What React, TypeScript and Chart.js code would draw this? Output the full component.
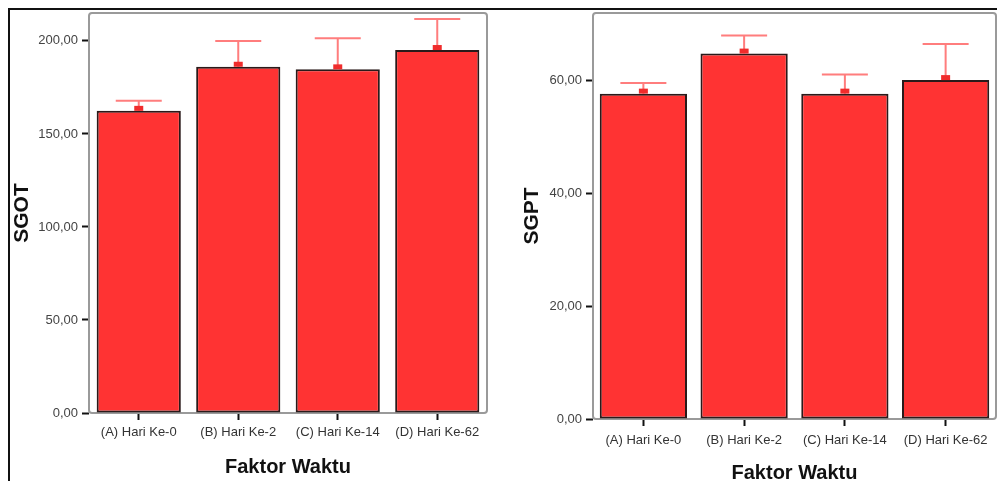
import React, { useEffect, useRef } from "react";
import { Chart, registerables } from "chart.js";

Chart.register(...registerables);

const categories = ["(A) Hari Ke-0", "(B) Hari Ke-2", "(C) Hari Ke-14", "(D) Hari Ke-62"];

const sgotMeans = [162.4, 186.1, 184.7, 195.1];
const sgotUpper = [167.9, 200.0, 201.4, 211.8];
const sgotTickValues = [0, 50, 100, 150, 200];
const sgotTickLabels = ["0,00", "50,00", "100,00", "150,00", "200,00"];

const sgptMeans = [57.7, 64.8, 57.7, 60.1];
const sgptUpper = [59.6, 68.0, 61.1, 66.5];
const sgptTickValues = [0, 20, 40, 60];
const sgptTickLabels = ["0,00", "20,00", "40,00", "60,00"];

const FONT = "'Liberation Sans', Arial, sans-serif";

const framePlugin = {
  id: "plotFrame",
  beforeDatasetsDraw(chart: any) {
    const { ctx, chartArea: a } = chart;
    ctx.save();
    ctx.strokeStyle = "#9a9a9a";
    ctx.lineWidth = 2;
    ctx.beginPath();
    if ((ctx as any).roundRect) {
      (ctx as any).roundRect(a.left, a.top, a.right - a.left, a.bottom - a.top, 3);
    } else {
      ctx.rect(a.left, a.top, a.right - a.left, a.bottom - a.top);
    }
    ctx.stroke();
    ctx.restore();
  },
};

const errorBarPlugin = {
  id: "errorBars",
  afterDatasetsDraw(chart: any, _args: any, opts: any) {
    const ctx = chart.ctx;
    const meta = chart.getDatasetMeta(0);
    const yScale = chart.scales.y;
    const upper: number[] = opts.upper || [];
    const capHalf = 23;
    ctx.save();
    meta.data.forEach((bar: any, i: number) => {
      const x = bar.x;
      const top = bar.y;
      const yu = yScale.getPixelForValue(upper[i]);
      ctx.strokeStyle = "#ff7d7d";
      ctx.lineWidth = 2;
      ctx.beginPath();
      ctx.moveTo(x, top);
      ctx.lineTo(x, yu);
      ctx.moveTo(x - capHalf, yu);
      ctx.lineTo(x + capHalf, yu);
      ctx.stroke();
      ctx.fillStyle = "#f02c2c";
      ctx.fillRect(x - 4.5, top - 5, 9, 5);
    });
    ctx.restore();
  },
};

type PanelProps = {
  width: number;
  height: number;
  left: number;
  top: number;
  yTitle: string;
  means: number[];
  upper: number[];
  tickValues: number[];
  tickLabels: string[];
  yMax: number;
  yWidth: number;
  xHeight: number;
  padRight: number;
  padTop: number;
  yTitlePad: number;
  xTitlePad: number;
  xTickPad: number;
  barFrac: number;
};

function Panel(p: PanelProps) {
  const ref = useRef<HTMLCanvasElement | null>(null);
  useEffect(() => {
    if (!ref.current) return;
    const chart = new Chart(ref.current, {
      type: "bar",
      data: {
        labels: categories,
        datasets: [
          {
            data: p.means,
            backgroundColor: "#ff3333",
            borderColor: "#2a1a1a",
            borderWidth: 2,
            borderSkipped: false,
            barPercentage: 1,
            categoryPercentage: p.barFrac,
          },
        ],
      },
      plugins: [framePlugin, errorBarPlugin],
      options: {
        animation: false,
        responsive: false,
        devicePixelRatio: 1,
        layout: { padding: { left: 0, right: p.padRight, top: p.padTop, bottom: 0 } },
        plugins: {
          legend: { display: false },
          tooltip: { enabled: false },
          errorBars: { upper: p.upper },
        } as any,
        scales: {
          x: {
            type: "category",
            grid: {
              display: true,
              drawOnChartArea: false,
              offset: false,
              tickLength: 7,
              tickWidth: 2,
              tickColor: "#111",
            },
            border: { display: false },
            ticks: {
              font: { family: FONT, size: 13 },
              color: "#333",
              padding: p.xTickPad,
              maxRotation: 0,
              autoSkip: false,
            },
            title: {
              display: true,
              text: "Faktor Waktu",
              font: { family: FONT, size: 20, weight: "bold", lineHeight: 1 },
              color: "#111",
              padding: { top: 0, bottom: p.xTitlePad },
            },
            afterFit: (s: any) => {
              s.height = p.xHeight;
              s.paddingLeft = 0;
              s.paddingRight = 0;
              s.paddingTop = 0;
              s.paddingBottom = 0;
            },
          },
          y: {
            type: "linear",
            min: 0,
            max: p.yMax,
            grid: {
              display: true,
              drawOnChartArea: false,
              tickLength: 7,
              tickWidth: 2,
              tickColor: "#111",
            },
            border: { display: false },
            afterBuildTicks: (s: any) => {
              s.ticks = p.tickValues.map((v) => ({ value: v }));
            },
            ticks: {
              font: { family: FONT, size: 13 },
              color: "#444",
              padding: 4,
              callback: (v: any) => {
                const i = p.tickValues.indexOf(Number(v));
                return i >= 0 ? p.tickLabels[i] : "";
              },
            },
            title: {
              display: true,
              text: p.yTitle,
              font: { family: FONT, size: 21, weight: "bold", lineHeight: 1 },
              color: "#111",
              padding: { top: p.yTitlePad, bottom: 0 },
            },
            afterFit: (s: any) => {
              s.width = p.yWidth;
              s.paddingLeft = 0;
              s.paddingRight = 0;
              s.paddingTop = 0;
              s.paddingBottom = 0;
            },
          },
        },
      } as any,
    });
    return () => chart.destroy();
  }, []);
  return (
    <canvas
      ref={ref}
      width={p.width}
      height={p.height}
      style={{ position: "absolute", left: p.left, top: p.top, width: p.width, height: p.height }}
    />
  );
}

export default function App() {
  return (
    <div
      style={{
        position: "absolute",
        left: 0,
        top: 0,
        width: 997,
        height: 481,
        overflow: "hidden",
        background: "#ffffff",
      }}
    >
      <div style={{ position: "absolute", left: 8, top: 8, width: 989, height: 2, background: "#111" }} />
      <div style={{ position: "absolute", left: 8, top: 8, width: 2, height: 473, background: "#111" }} />
      <Panel
        width={485}
        height={471}
        left={10}
        top={10}
        yTitle="SGOT"
        means={sgotMeans}
        upper={sgotUpper}
        tickValues={sgotTickValues}
        tickLabels={sgotTickLabels}
        yMax={215}
        yWidth={79}
        xHeight={68}
        padRight={8}
        padTop={3}
        yTitlePad={2}
        xTitlePad={4}
        xTickPad={5}
        barFrac={0.846}
      />
      <Panel
        width={497}
        height={471}
        left={500}
        top={10}
        yTitle="SGPT"
        means={sgptMeans}
        upper={sgptUpper}
        tickValues={sgptTickValues}
        tickLabels={sgptTickLabels}
        yMax={72}
        yWidth={93}
        xHeight={62}
        padRight={1}
        padTop={3}
        yTitlePad={22}
        xTitlePad={-2}
        xTickPad={7}
        barFrac={0.866}
      />
    </div>
  );
}
